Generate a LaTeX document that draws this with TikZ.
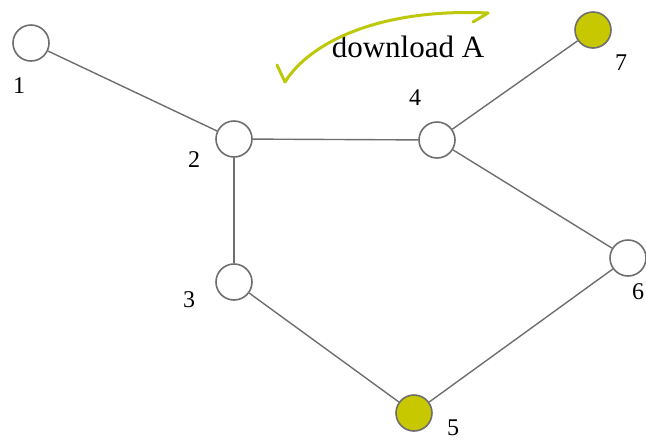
\documentclass[tikz,border=0pt]{standalone}
\usepackage{fontspec}
\setmainfont{Liberation Serif}
\usepackage{xcolor}
\usetikzlibrary{positioning}
\definecolor{seedfill}{RGB}{200,200,0}
\definecolor{dlgreen}{RGB}{190,200,10}
\definecolor{edgegray}{RGB}{110,110,110}

\begin{document}
\begin{tikzpicture}[x=1pt, y=-1pt,
    peer/.style={circle, draw=edgegray, line width=1.6pt, fill=white, minimum size=36pt, inner sep=0pt},
    seeder/.style={peer, fill=seedfill},
    link/.style={draw=edgegray, line width=1.4pt},
    num/.style={font=\fontsize{24}{24}\selectfont, inner sep=0pt}
]
\useasboundingbox (0,0) rectangle (646,440);

\node[peer] (n1) at (31, 43) {};
\node[peer] (n2) at (234, 139) {};
\node[peer] (n3) at (234, 282) {};
\node[peer] (n4) at (437, 140) {};
\node[seeder] (n5) at (414, 413) {};
\node[peer] (n6) at (628, 258) {};
\node[seeder] (n7) at (593, 30) {};

\node[num] (l1) at (19, 86) {1};
\node[num] (l2) at (194, 160) {2};
\node[num] (l3) at (189, 300) {3};
\node[num] (l4) at (415, 98) {4};
\node[num] (l5) at (453, 428) {5};
\node[num] (l6) at (638, 292) {6};
\node[num] (l7) at (621, 63) {7};

\draw[link] (n1) -- (n2);
\draw[link] (n2) -- (n4);
\draw[link] (n2) -- (n3);
\draw[link] (n3) -- (n5);
\draw[link] (n5) -- (n6);
\draw[link] (n4) -- (n6);
\draw[link] (n4) -- (n7);

% download arrow
\node[font=\fontsize{31}{31}\selectfont, inner sep=0pt] (dl) at (408, 47) {download A};
\coordinate (dlfrom) at (488, 13);
\coordinate (dlto) at (285, 82);
\draw[dlgreen, line width=3pt, line cap=round] (dlfrom) .. controls (380, 8) and (310, 42) .. (dlto);
\draw[dlgreen, line width=3pt, line cap=round] (dlto) -- ++(-8, -17);
\draw[dlgreen, line width=3pt, line cap=round] (dlfrom) -- ++(-15, 9);
\end{tikzpicture}
\end{document}
